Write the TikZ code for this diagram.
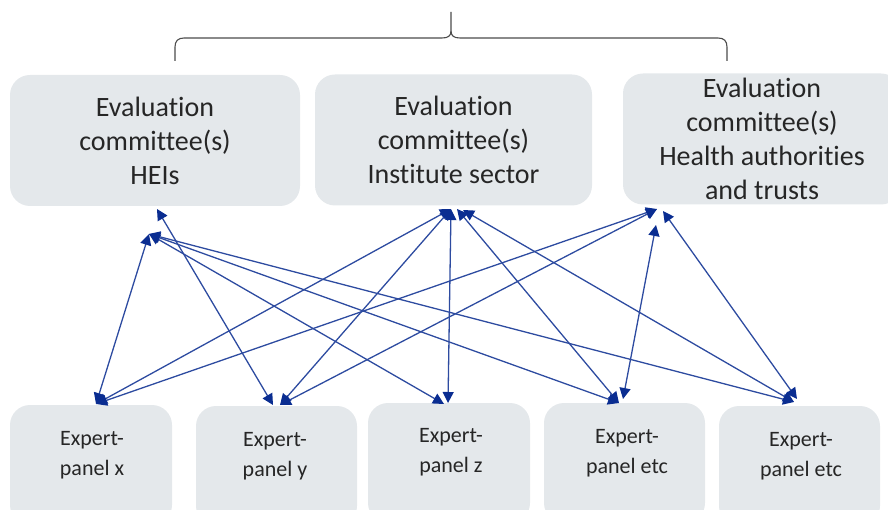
\documentclass[tikz,border=0pt]{standalone}
\usepackage{fontspec}
\setmainfont{Carlito}[Ligatures=CommonOff]
\usetikzlibrary{arrows.meta}
\definecolor{boxfill}{RGB}{228,232,235}
\definecolor{txt}{RGB}{38,38,38}
\definecolor{arr}{RGB}{45,75,160}
\definecolor{tipcol}{RGB}{10,45,145}
\begin{document}
\begin{tikzpicture}[x=1pt,y=-1pt,
  topbox/.style={fill=boxfill, rounded corners=20pt, minimum width=#1, minimum height=131pt, inner sep=0pt, text=txt, align=center, font=\fontsize{28}{34}\selectfont},
  botbox/.style={fill=boxfill, rounded corners=20pt, minimum width=162pt, minimum height=120pt, inner sep=0pt},
  bottext/.style={text=txt, align=center, inner sep=0pt, font=\fontsize{22}{30}\selectfont},
  link/.style={draw=arr, line width=1.3pt, {Triangle[length=11pt,width=11pt,color=tipcol]}-{Triangle[length=11pt,width=11pt,color=tipcol]}},
  bracket/.style={draw=black!70, line width=1.1pt}]
\path[use as bounding box] (0,0) rectangle (888,510);
\clip (0,0) rectangle (888,510);

% brace
\coordinate (bl) at (175,61);
\coordinate (br) at (727,61);
\coordinate (bt) at (451,12);
\draw[bracket] (bl) -- (175,47) .. controls (175,41) and (178,38) .. (184,38) -- (442,38)
  .. controls (448,38) and (451,36) .. (451,31) -- (bt);
\draw[bracket] (br) -- (727,47) .. controls (727,41) and (724,38) .. (718,38) -- (460,38)
  .. controls (454,38) and (451,36) .. (451,31);

% top boxes
\node[topbox=290pt] (hei) at (155,140.5) {Evaluation\\committee(s)\\HEIs};
\node[topbox=277pt] (inst) at (453.5,140) {Evaluation\\committee(s)\\Institute sector};
\node[topbox=278pt] (health) at (762,139) {Evaluation\\committee(s)\\Health authorities\\and trusts};

% bottom boxes
\node[botbox] (bx) at (91,465) {};
\node[botbox, minimum width=161pt] (by) at (276.5,466) {};
\node[botbox] (bz) at (449,463) {};
\node[botbox, minimum width=161pt] (be) at (624.5,463) {};
\node[botbox, minimum width=161pt] (bf) at (799.5,466) {};
\node[bottext] (tx) at (92,455) {Expert-\\panel x};
\node[bottext] (ty) at (275,456) {Expert-\\panel y};
\node[bottext] (tz) at (451,452) {Expert-\\panel z};
\node[bottext] (te) at (627,453) {Expert-\\panel etc};
\node[bottext] (tf) at (801,456) {Expert-\\panel etc};

% connector end points
\coordinate (hA) at (157,209);
\coordinate (hB) at (149,234);
\coordinate (iA) at (451,209);
\coordinate (iB) at (457,209);
\coordinate (iC) at (463,210);
\coordinate (cA) at (657,209);
\coordinate (cB) at (663,211);
\coordinate (cC) at (656,225);
\coordinate (xA) at (96,404);
\coordinate (yA) at (273,405);
\coordinate (yB) at (280,405);
\coordinate (zA) at (444,404);
\coordinate (zB) at (448,403);
\coordinate (eA) at (619,403);
\coordinate (eB) at (623,399);
\coordinate (fA) at (794,402);
\coordinate (fB) at (797,399);

% connectors
\draw[link] (hB) -- (xA);
\draw[link] (hA) -- (yA);
\draw[link] (hB) -- (zA);
\draw[link] (hB) -- (eA);
\draw[link] (hB) -- (fA);
\draw[link] (iA) -- (xA);
\draw[link] (iA) -- (yB);
\draw[link] (iA) -- (zB);
\draw[link] (iB) -- (eA);
\draw[link] (iC) -- (fA);
\draw[link] (cA) -- (xA);
\draw[link] (cA) -- (yB);
\draw[link] (cC) -- (eB);
\draw[link] (cB) -- (fB);
\end{tikzpicture}
\end{document}
